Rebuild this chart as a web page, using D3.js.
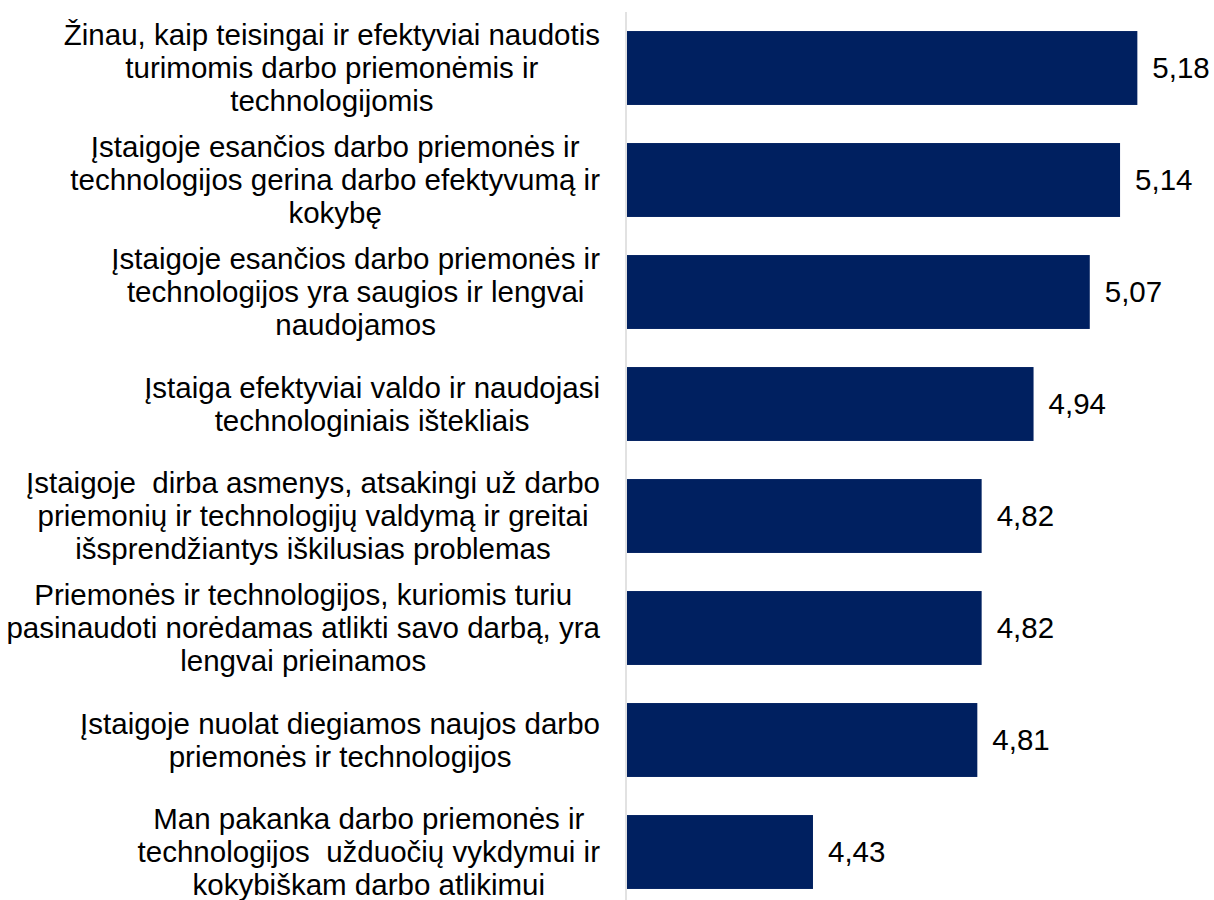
<!DOCTYPE html>
<html>
<head>
    <meta charset="utf-8">
    <title>Darbo priemonės ir technologijos</title>
    <script src="https://d3js.org/d3.v7.min.js"></script>
    <style>
        body { margin: 0; background: #fff; }
        text { font-family: "Liberation Sans", Arial, sans-serif; fill: #000; white-space: pre; }
    </style>
</head>
<body>
    <script>
        // kategorijos (eilutės kaip paveiksle)
        const categories = [
            ["Žinau, kaip teisingai ir efektyviai naudotis", "turimomis darbo priemonėmis ir", "technologijomis"],
            ["Įstaigoje esančios darbo priemonės ir", "technologijos gerina darbo efektyvumą ir", "kokybę"],
            ["Įstaigoje esančios darbo priemonės ir", "technologijos yra saugios ir lengvai", "naudojamos"],
            ["Įstaiga efektyviai valdo ir naudojasi", "technologiniais ištekliais"],
            ["Įstaigoje  dirba asmenys, atsakingi už darbo", "priemonių ir technologijų valdymą ir greitai", "išsprendžiantys iškilusias problemas"],
            ["Priemonės ir technologijos, kuriomis turiu", "pasinaudoti norėdamas atlikti savo darbą, yra", "lengvai prieinamos"],
            ["Įstaigoje nuolat diegiamos naujos darbo", "priemonės ir technologijos"],
            ["Man pakanka darbo priemonės ir", "technologijos  užduočių vykdymui ir", "kokybiškam darbo atlikimui"]
        ];
        const values = [5.18, 5.14, 5.07, 4.94, 4.82, 4.82, 4.81, 4.43];
        const valueLabels = ["5,18", "5,14", "5,07", "4,94", "4,82", "4,82", "4,81", "4,43"];

        const width = 1214, height = 900;
        const axisX = 626, barX = 627, labelRight = 600;
        const fontSize = 29.5;

        const svg = d3.select("body").append("svg")
            .attr("width", width)
            .attr("height", height);

        const x = d3.scaleLinear()
            .domain([4, 5.4])
            .range([barX, barX + 1.4 * 432.5]);

        const y = d3.scaleBand()
            .domain(d3.range(values.length))
            .range([12, 908])
            .paddingInner(0.34)
            .paddingOuter(0.17);

        // stulpeliai
        svg.selectAll("rect.bar")
            .data(values)
            .enter().append("rect")
            .attr("class", "bar")
            .attr("x", x(4))
            .attr("y", (d, i) => y(i))
            .attr("width", d => x(d) - x(4))
            .attr("height", y.bandwidth())
            .attr("fill", "#002060");

        // ašies linija
        svg.append("line")
            .attr("x1", axisX).attr("x2", axisX)
            .attr("y1", 12).attr("y2", height)
            .attr("stroke", "#d9d9d9")
            .attr("stroke-width", 1.5);

        // reikšmės
        svg.selectAll("text.val")
            .data(values)
            .enter().append("text")
            .attr("class", "val")
            .attr("x", d => x(d) + 15)
            .attr("y", (d, i) => y(i) + y.bandwidth() / 2)
            .attr("dy", ".35em")
            .attr("font-size", fontSize)
            .text((d, i) => valueLabels[i]);

        // kategorijų pavadinimai: blokas lygiuojamas dešinėje, eilutės centruojamos
        const lineH = 33;
        categories.forEach((lines, i) => {
            const g = svg.append("g");
            const cy = y(i) + y.bandwidth() / 2;
            const t = g.selectAll("text")
                .data(lines)
                .enter().append("text")
                .attr("font-size", fontSize)
                .attr("text-anchor", "middle")
                .attr("y", (d, j) => cy + (j - (lines.length - 1) / 2) * lineH)
                .attr("dy", ".35em")
                .text(d => d);
            let maxW = 0;
            t.each(function () { maxW = Math.max(maxW, this.getComputedTextLength()); });
            t.attr("x", labelRight - maxW / 2);
        });
    </script>
</body>
</html>
